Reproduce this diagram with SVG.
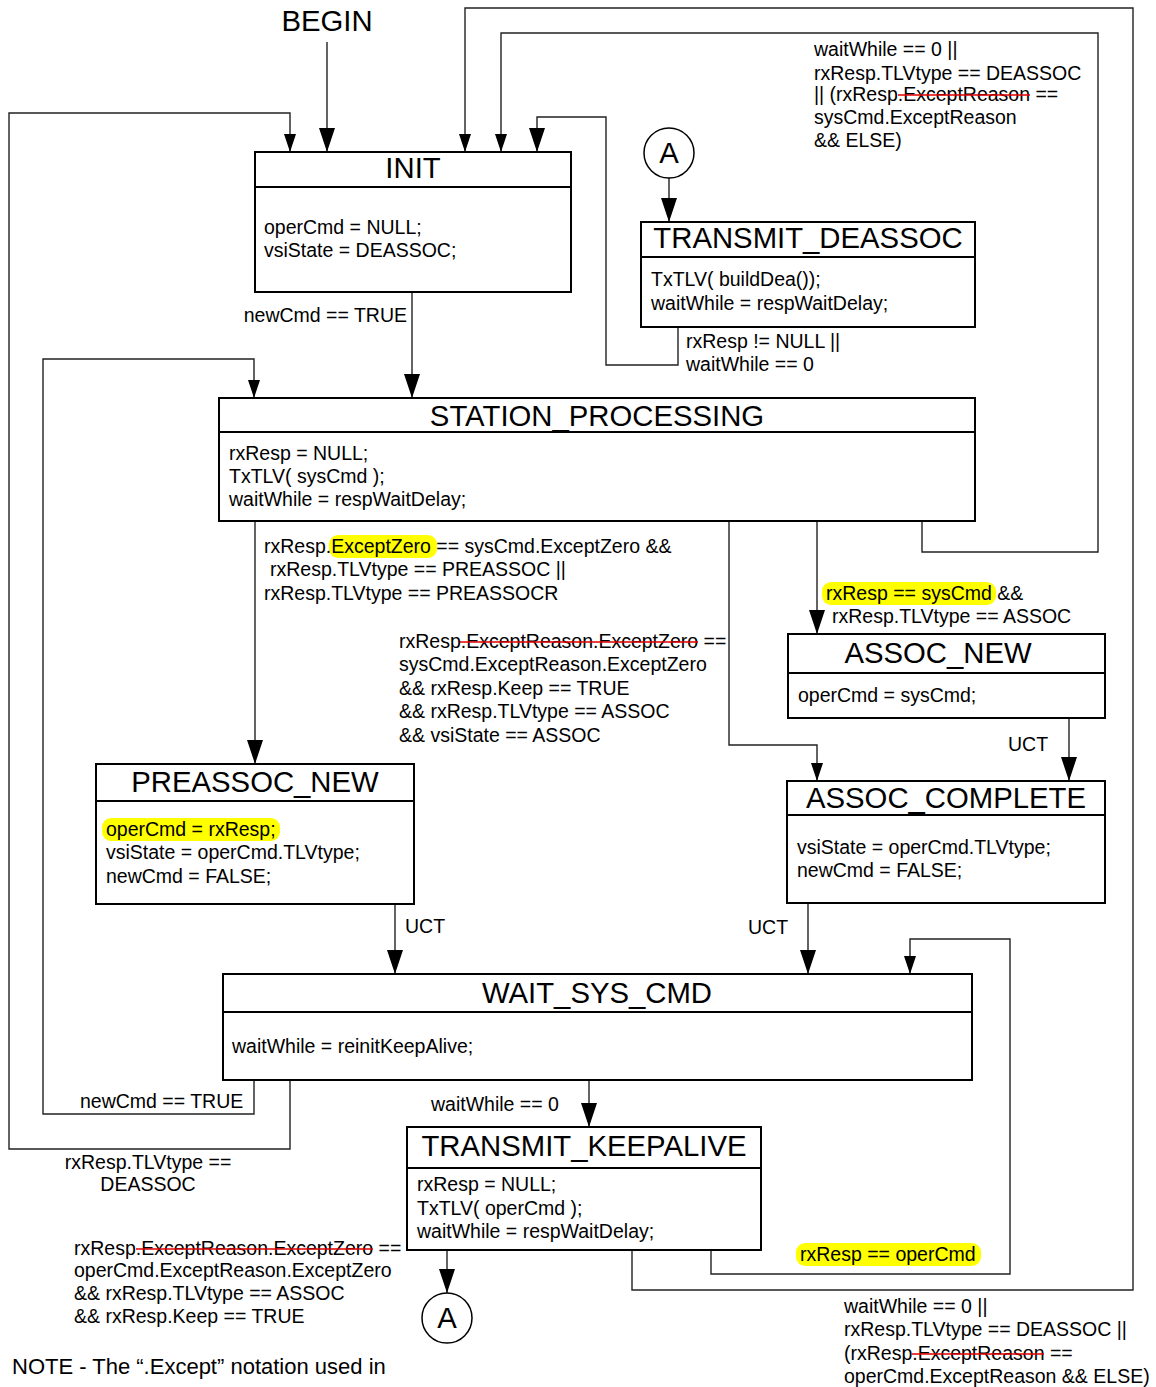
<svg xmlns="http://www.w3.org/2000/svg" width="1156" height="1387" viewBox="0 0 1156 1387">
<style>
text{font-family:"Liberation Sans",Arial,sans-serif;fill:#000}
.t{font-size:29.3px;text-anchor:middle}
.b{font-size:19.5px}
.l{font-size:19.5px}
.box{fill:#fff;stroke:#000;stroke-width:2}
.div{stroke:#000;stroke-width:2}
.c{fill:none;stroke:#222;stroke-width:1.4}
.hl{fill:#ffff00}
.st{stroke:#e00000;stroke-width:1.6}
</style>
<defs>
<marker id="big" markerUnits="userSpaceOnUse" markerWidth="24" markerHeight="16" refX="24" refY="8" orient="auto" viewBox="0 0 24 16"><path d="M0,0 L24,8 L0,16 z" fill="#000"/></marker>
<marker id="sm" markerUnits="userSpaceOnUse" markerWidth="18" markerHeight="12" refX="18" refY="6" orient="auto" viewBox="0 0 18 12"><path d="M0,0 L18,6 L0,12 z" fill="#000"/></marker>
</defs>
<rect width="1156" height="1387" fill="#fff"/>

<g id="connectors">
<path class="c" d="M327,42 V152" marker-end="url(#big)"/>
<path class="c" d="M290,1081 V1149 H9 V113 H290 V152" marker-end="url(#sm)"/>
<path class="c" d="M632,1250 V1290 H1133 V8 H465 V152" marker-end="url(#sm)"/>
<path class="c" d="M922,521 V552 H1098 V33 H501 V152" marker-end="url(#sm)"/>
<path class="c" d="M678,327 V365 H606 V117 H537 V152" marker-end="url(#big)"/>
<path class="c" d="M669,178 V222" marker-end="url(#big)"/>
<path class="c" d="M412,292 V398" marker-end="url(#big)"/>
<path class="c" d="M254,1081 V1114 H43 V359 H254 V398" marker-end="url(#sm)"/>
<path class="c" d="M255,521 V764" marker-end="url(#big)"/>
<path class="c" d="M817,521 V634" marker-end="url(#big)"/>
<path class="c" d="M729,521 V745 H817 V781" marker-end="url(#sm)"/>
<path class="c" d="M1069,718 V781" marker-end="url(#big)"/>
<path class="c" d="M395,904 V974" marker-end="url(#big)"/>
<path class="c" d="M808,903 V974" marker-end="url(#big)"/>
<path class="c" d="M711,1250 V1274 H1010 V939 H910 V974" marker-end="url(#sm)"/>
<path class="c" d="M589,1080 V1127" marker-end="url(#big)"/>
<path class="c" d="M447,1250 V1293" marker-end="url(#big)"/>
</g>

<g id="begin"><text class="t" x="327" y="31">BEGIN</text></g>

<g id="init">
<rect class="box" x="255" y="152" width="316" height="140"/>
<line class="div" x1="255" y1="187" x2="571" y2="187"/>
<text class="t" x="413" y="178">INIT</text>
<text class="b" x="264" y="234">operCmd = NULL;</text>
<text class="b" x="264" y="257">vsiState = DEASSOC;</text>
</g>

<g id="connA1">
<circle cx="669" cy="153" r="25" fill="#fff" stroke="#000" stroke-width="1.5"/>
<text class="t" x="669" y="163">A</text>
</g>

<g id="transmit_deassoc">
<rect class="box" x="641" y="222" width="334" height="105"/>
<line class="div" x1="641" y1="257" x2="975" y2="257"/>
<text class="t" x="808" y="248">TRANSMIT_DEASSOC</text>
<text class="b" x="651" y="286">TxTLV( buildDea());</text>
<text class="b" x="651" y="310">waitWhile = respWaitDelay;</text>
</g>

<g id="station_processing">
<rect class="box" x="219" y="398" width="756" height="123"/>
<line class="div" x1="219" y1="432" x2="975" y2="432"/>
<text class="t" x="597" y="426">STATION_PROCESSING</text>
<text class="b" x="229" y="460">rxResp = NULL;</text>
<text class="b" x="229" y="483">TxTLV( sysCmd );</text>
<text class="b" x="229" y="506">waitWhile = respWaitDelay;</text>
</g>

<g id="assoc_new">
<rect class="box" x="788" y="634" width="317" height="84"/>
<line class="div" x1="788" y1="673" x2="1105" y2="673"/>
<text class="t" x="938" y="663">ASSOC_NEW</text>
<text class="b" x="798" y="702">operCmd = sysCmd;</text>
</g>

<g id="preassoc_new">
<rect class="box" x="96" y="764" width="318" height="140"/>
<line class="div" x1="96" y1="801" x2="414" y2="801"/>
<text class="t" x="255" y="792">PREASSOC_NEW</text>
<rect class="hl" x="102" y="818" width="178" height="23" rx="9"/>
<text class="b" x="106" y="836">operCmd = rxResp;</text>
<text class="b" x="106" y="859">vsiState = operCmd.TLVtype;</text>
<text class="b" x="106" y="883">newCmd = FALSE;</text>
</g>

<g id="assoc_complete">
<rect class="box" x="787" y="781" width="318" height="122"/>
<line class="div" x1="787" y1="815" x2="1105" y2="815"/>
<text class="t" x="946" y="808">ASSOC_COMPLETE</text>
<text class="b" x="797" y="854">vsiState = operCmd.TLVtype;</text>
<text class="b" x="797" y="877">newCmd = FALSE;</text>
</g>

<g id="wait_sys_cmd">
<rect class="box" x="223" y="974" width="749" height="106"/>
<line class="div" x1="223" y1="1012" x2="972" y2="1012"/>
<text class="t" x="597" y="1003">WAIT_SYS_CMD</text>
<text class="b" x="232" y="1053">waitWhile = reinitKeepAlive;</text>
</g>

<g id="transmit_keepalive">
<rect class="box" x="407" y="1127" width="354" height="123"/>
<line class="div" x1="407" y1="1168" x2="761" y2="1168"/>
<text class="t" x="584" y="1156">TRANSMIT_KEEPALIVE</text>
<text class="b" x="417" y="1191">rxResp = NULL;</text>
<text class="b" x="417" y="1215">TxTLV( operCmd );</text>
<text class="b" x="417" y="1238">waitWhile = respWaitDelay;</text>
</g>

<g id="connA2">
<circle cx="447" cy="1318" r="25" fill="#fff" stroke="#000" stroke-width="1.5"/>
<text class="t" x="447" y="1328">A</text>
</g>

<g id="labels">
<text class="l" x="407" y="322" text-anchor="end">newCmd == TRUE</text>
<text class="l" x="686" y="348">rxResp != NULL ||</text>
<text class="l" x="686" y="371">waitWhile == 0</text>

<text class="l" x="814" y="56">waitWhile == 0 ||</text>
<text class="l" x="814" y="80">rxResp.TLVtype == DEASSOC</text>
<text class="l" x="814" y="101">|| (rxResp.ExceptReason ==</text>
<line class="st" x1="898" y1="95" x2="1030" y2="95"/>
<text class="l" x="814" y="124">sysCmd.ExceptReason</text>
<text class="l" x="814" y="147">&amp;&amp; ELSE)</text>

<rect class="hl" x="329" y="535" width="108" height="23" rx="9"/>
<text class="l" x="264" y="553">rxResp.ExceptZero == sysCmd.ExceptZero &amp;&amp;</text>
<text class="l" x="270" y="576">rxResp.TLVtype == PREASSOC ||</text>
<text class="l" x="264" y="600">rxResp.TLVtype == PREASSOCR</text>

<text class="l" x="399" y="648">rxResp.ExceptReason.ExceptZero ==</text>
<line class="st" x1="460" y1="642" x2="698" y2="642"/>
<text class="l" x="399" y="671">sysCmd.ExceptReason.ExceptZero</text>
<text class="l" x="399" y="695">&amp;&amp; rxResp.Keep == TRUE</text>
<text class="l" x="399" y="718">&amp;&amp; rxResp.TLVtype == ASSOC</text>
<text class="l" x="399" y="742">&amp;&amp; vsiState == ASSOC</text>

<rect class="hl" x="822" y="582" width="174" height="23" rx="9"/>
<text class="l" x="826" y="600">rxResp == sysCmd &amp;&amp;</text>
<text class="l" x="832" y="623">rxResp.TLVtype == ASSOC</text>

<text class="l" x="1008" y="751">UCT</text>
<text class="l" x="405" y="933">UCT</text>
<text class="l" x="748" y="934">UCT</text>

<text class="l" x="80" y="1108">newCmd == TRUE</text>
<text class="l" x="148" y="1169" text-anchor="middle">rxResp.TLVtype ==</text>
<text class="l" x="148" y="1191" text-anchor="middle">DEASSOC</text>
<text class="l" x="431" y="1111">waitWhile == 0</text>

<rect class="hl" x="796" y="1243" width="185" height="23" rx="9"/>
<text class="l" x="800" y="1261">rxResp == operCmd</text>

<text class="l" x="74" y="1255">rxResp.ExceptReason.ExceptZero ==</text>
<line class="st" x1="136" y1="1249" x2="373" y2="1249"/>
<text class="l" x="74" y="1277">operCmd.ExceptReason.ExceptZero</text>
<text class="l" x="74" y="1300">&amp;&amp; rxResp.TLVtype == ASSOC</text>
<text class="l" x="74" y="1323">&amp;&amp; rxResp.Keep == TRUE</text>

<text class="l" x="844" y="1313">waitWhile == 0 ||</text>
<text class="l" x="844" y="1336">rxResp.TLVtype == DEASSOC ||</text>
<text class="l" x="844" y="1360">(rxResp.ExceptReason ==</text>
<line class="st" x1="912" y1="1354" x2="1044" y2="1354"/>
<text class="l" x="844" y="1383">operCmd.ExceptReason &amp;&amp; ELSE)</text>

<text x="12" y="1374" style="font-size:22px">NOTE - The “.Except” notation used in</text>
</g>
</svg>
